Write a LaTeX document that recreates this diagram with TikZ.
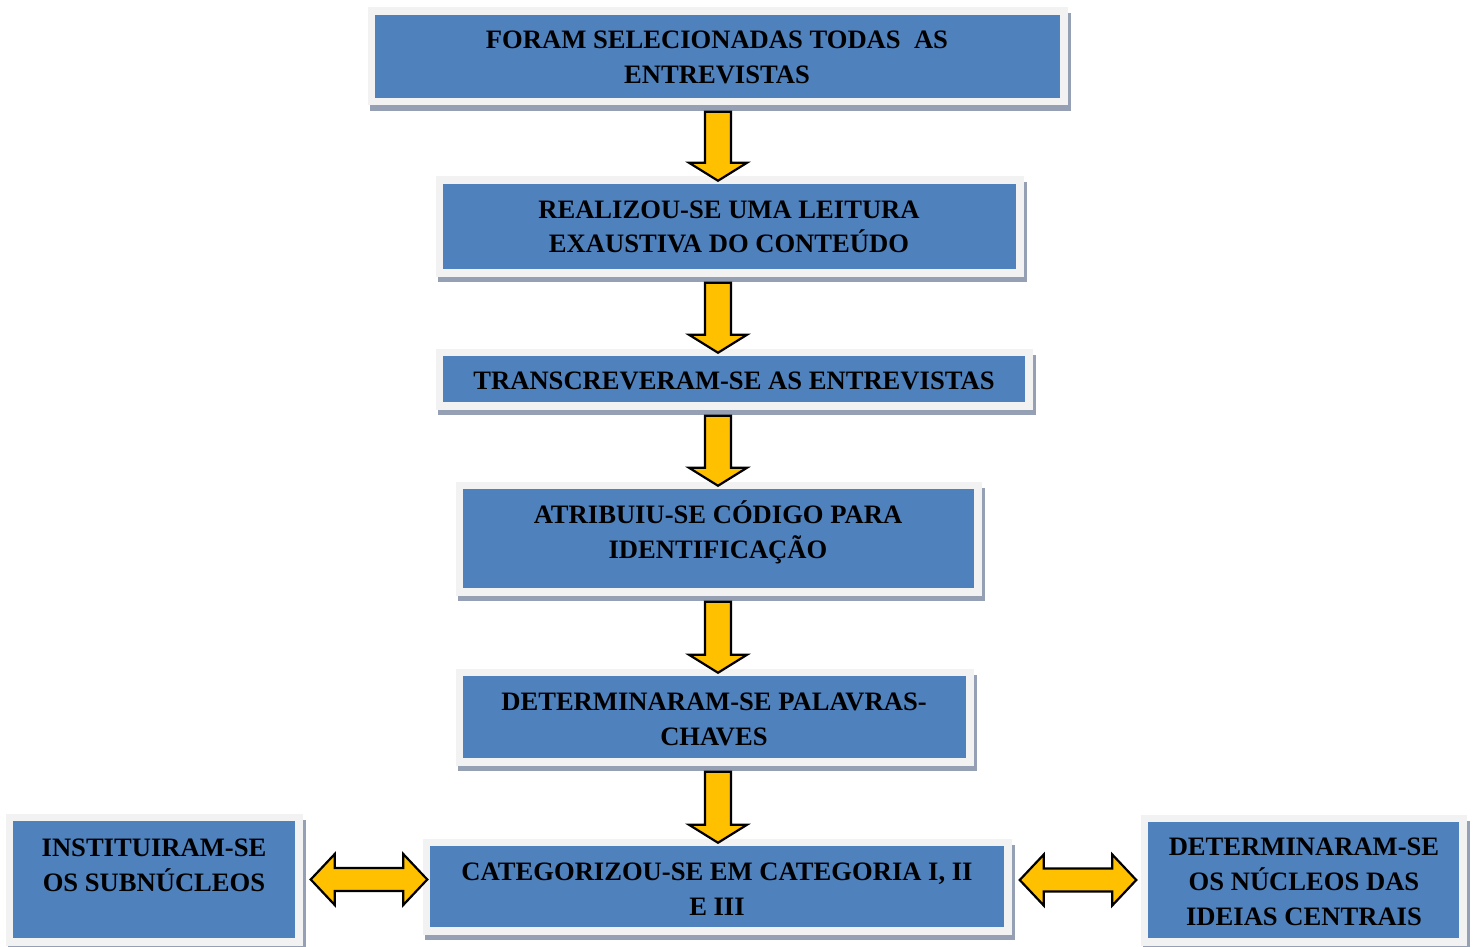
\documentclass[tikz,border=0pt]{standalone}
\usepackage{fontspec}
\setmainfont{Liberation Serif}
\usetikzlibrary{calc,backgrounds}
\definecolor{boxblue}{HTML}{4F81BD}
\definecolor{boxframe}{HTML}{F2F2F2}
\definecolor{shadowc}{RGB}{150,160,180}
\definecolor{arrowyellow}{HTML}{FFC000}
\tikzset{
  flowbox/.style={rectangle, draw=boxframe, line width=7.5pt, fill=boxblue, inner sep=0pt, outer sep=0pt},
  boxtext/.style={font=\bfseries\fontsize{26.6}{34.7}\selectfont, align=center, inner sep=0pt, text=black},
  blockarrow/.style={fill=arrowyellow, draw=black, line width=2.2pt, line join=miter},
  shadowstrip/.style={fill=shadowc}
}
% #1 name, #2 x1, #3 y1, #4 x2, #5 y2 (inner blue rectangle, pixel coordinates)
\newcommand\flowboxat[5]{%
  \node[flowbox, minimum width={(#4-#2+7.5)*1pt}, minimum height={(#5-#3+7.5)*1pt}] (#1) at ({(#2+#4)/2},{(#3+#5)/2}) {};
  \begin{scope}[on background layer]
    \fill[shadowstrip] ([shift={(-1.75,2.25)}]#1.north west) rectangle ([shift={(7.25,9.25)}]#1.south east);
  \end{scope}
}
% down arrow from #1 to #2 on the x of coordinate (axis)
\newcommand\flowdownarrow[2]{%
  \draw[blockarrow] let \p1=(#1.south), \p2=(#2.north), \p3=(axis) in
    (\x3-13pt,\y1-10pt) -- (\x3+13pt,\y1-10pt) -- (\x3+13pt,\y2+17.5pt) -- (\x3+29pt,\y2+17.5pt)
    -- (\x3,\y2-0.5pt) -- (\x3-29pt,\y2+17.5pt) -- (\x3-13pt,\y2+17.5pt) -- cycle;
}
% double arrow between #1 (left) and #2 (right), gaps #3 and #4, at the height of node #5
\newcommand\flowdblarrow[5]{%
  \draw[blockarrow] let \p1=(#1.east), \p2=(#2.west), \p3=(#5.center) in
    (\x1+#3,\y3) -- (\x1+#3+24pt,\y3+25.5pt) -- (\x1+#3+24pt,\y3+11.5pt) -- (\x2-#4-24pt,\y3+11.5pt)
    -- (\x2-#4-24pt,\y3+25.5pt) -- (\x2-#4,\y3) -- (\x2-#4-24pt,\y3-25.5pt) -- (\x2-#4-24pt,\y3-11.5pt)
    -- (\x1+#3+24pt,\y3-11.5pt) -- (\x1+#3+24pt,\y3-25.5pt) -- cycle;
}
\begin{document}
\begin{tikzpicture}[x=1pt,y=-1pt]
\useasboundingbox (0,0) rectangle (1473,947);
\coordinate (axis) at (718,0);

\flowboxat{b1}{375}{15}{1060}{98}
\flowboxat{b2}{443}{184}{1016}{269}
\flowboxat{b3}{443}{356}{1025}{402}
\flowboxat{b4}{463}{489}{974}{588}
\flowboxat{b5}{463}{676}{966}{758}
\flowboxat{b6}{430}{846}{1004}{927}
\flowboxat{b7}{13}{821}{295}{938}
\flowboxat{b8}{1148}{822}{1459}{938}

\node[boxtext] (t1) at (717,57.5) {FORAM SELECIONADAS TODAS\ \ AS\\ENTREVISTAS};
\node[boxtext] (t2) at (729,227) {REALIZOU-SE UMA LEITURA\\EXAUSTIVA DO CONTEÚDO};
\node[boxtext] (t3) at (734,381) {TRANSCREVERAM-SE AS ENTREVISTAS};
\node[boxtext] (t4) at (718,532) {ATRIBUIU-SE CÓDIGO PARA\\IDENTIFICAÇÃO};
\node[boxtext] (t5) at (714,719.5) {DETERMINARAM-SE PALAVRAS-\\CHAVES};
\node[boxtext] (t6) at (717,889) {CATEGORIZOU-SE EM CATEGORIA I, II\\E III};
\node[boxtext] (t7) at (154,865.5) {INSTITUIRAM-SE\\OS SUBNÚCLEOS};
\node[boxtext] (t8) at (1304,882) {DETERMINARAM-SE\\OS NÚCLEOS DAS\\IDEIAS CENTRAIS};

\flowdownarrow{b1}{b2}
\flowdownarrow{b2}{b3}
\flowdownarrow{b3}{b4}
\flowdownarrow{b4}{b5}
\flowdownarrow{b5}{b6}

\flowdblarrow{b7}{b6}{12pt}{-1pt}{b7}
\flowdblarrow{b6}{b8}{12pt}{8pt}{b8}
\end{tikzpicture}
\end{document}
